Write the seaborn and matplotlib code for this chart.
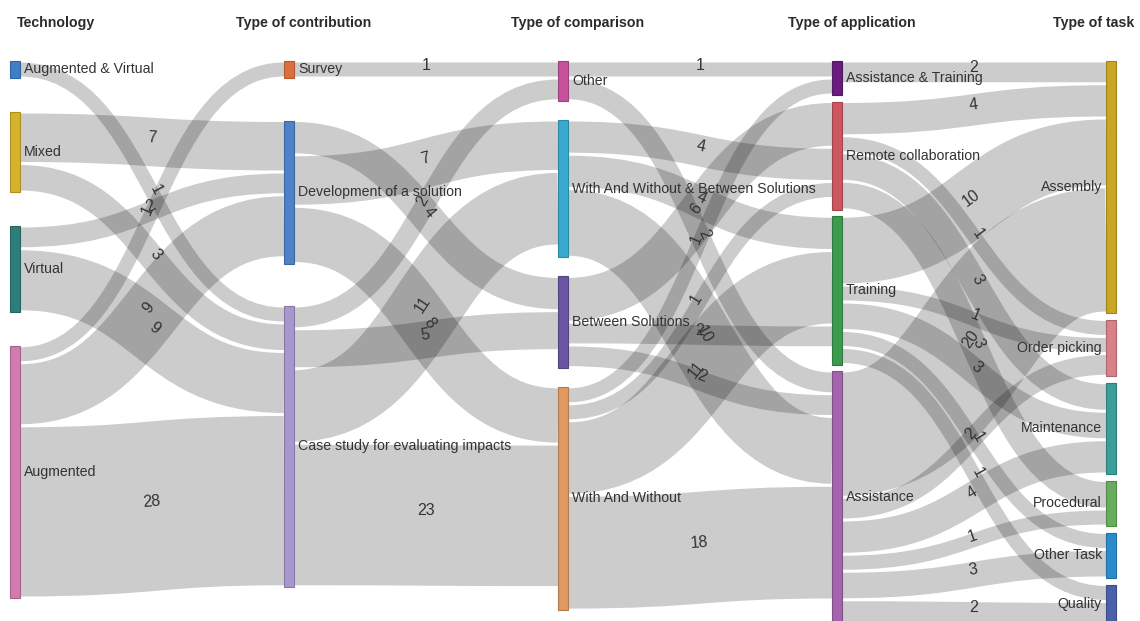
import numpy as np
import matplotlib
matplotlib.use("Agg")
import matplotlib.pyplot as plt
import seaborn as sns
from matplotlib.patches import Rectangle, PathPatch
from matplotlib.path import Path
from matplotlib.colors import to_rgb

# ---------------- data ----------------
column_titles = ["Technology", "Type of contribution", "Type of comparison",
                 "Type of application", "Type of task"]

technology = ["Augmented & Virtual", "Mixed", "Virtual", "Augmented"]
contribution = ["Survey", "Development of a solution", "Case study for evaluating impacts"]
comparison = ["Other", "With And Without & Between Solutions", "Between Solutions", "With And Without"]
application = ["Assistance & Training", "Remote collaboration", "Training", "Assistance"]
task = ["Assembly", "Order picking", "Maintenance", "Procedural", "Other Task", "Quality"]

technology_colors = ["#3f7fc6", "#d6b42a", "#2f7d7a", "#d27bb1"]
contribution_colors = ["#dd6f3e", "#4e81c7", "#a797cc"]
comparison_colors = ["#c6529c", "#3aa9cf", "#6a55a3", "#e09960"]
application_colors = ["#6a1b7e", "#cd5661", "#3b9a4e", "#a265ab"]
task_colors = ["#c9a623", "#d98089", "#3a9e99", "#68ad5e", "#2b8bcc", "#4b60aa"]

# Technology -> Type of contribution
tech_src = ["Augmented & Virtual", "Mixed", "Mixed", "Virtual", "Virtual",
            "Augmented", "Augmented", "Augmented"]
tech_tgt = ["Case study for evaluating impacts", "Development of a solution",
            "Case study for evaluating impacts", "Development of a solution",
            "Case study for evaluating impacts", "Survey", "Development of a solution",
            "Case study for evaluating impacts"]
tech_val = [1, 7, 3, 2, 9, 1, 9, 28]

# Type of contribution -> Type of comparison
contrib_src = ["Survey", "Development of a solution", "Development of a solution",
               "Development of a solution", "Case study for evaluating impacts",
               "Case study for evaluating impacts", "Case study for evaluating impacts",
               "Case study for evaluating impacts"]
contrib_tgt = ["Other", "Between Solutions", "With And Without & Between Solutions",
               "With And Without", "Other", "Between Solutions",
               "With And Without & Between Solutions", "With And Without"]
contrib_val = [1, 4, 7, 8, 2, 5, 11, 23]

# Type of comparison -> Type of application
comp_src = ["Other", "Other", "Between Solutions", "With And Without & Between Solutions",
            "With And Without & Between Solutions", "With And Without", "With And Without",
            "With And Without", "Between Solutions", "Between Solutions",
            "With And Without & Between Solutions", "With And Without"]
comp_tgt = ["Assistance & Training", "Assistance", "Remote collaboration",
            "Remote collaboration", "Training", "Assistance & Training",
            "Remote collaboration", "Training", "Training", "Assistance",
            "Assistance", "Assistance"]
comp_val = [1, 2, 6, 4, 4, 1, 1, 11, 2, 2, 10, 18]

# Type of application -> Type of task
app_src = ["Assistance & Training",
           "Remote collaboration", "Remote collaboration", "Remote collaboration",
           "Remote collaboration",
           "Training", "Training", "Training", "Training", "Training",
           "Assistance", "Assistance", "Assistance", "Assistance", "Assistance",
           "Assistance"]
app_tgt = ["Assembly",
           "Assembly", "Order picking", "Maintenance", "Procedural",
           "Assembly", "Order picking", "Maintenance", "Other Task", "Quality",
           "Assembly", "Order picking", "Maintenance", "Procedural", "Other Task",
           "Quality"]
app_val = [2, 4, 1, 3, 3, 10, 1, 3, 1, 1, 20, 2, 4, 1, 3, 2]

# ---------------- style / layout parameters ----------------
W, H = 1140, 621
SLOT_BASE, SLOT_PER_UNIT = 11.25, 5.75      # link slot thickness = base + per_unit * value
SEAM = 3.0                                   # white seam between adjacent links
NODE_W = 10
TOP = 61
COL_PAD = [34, 42.5, 19.2, 6.5, 6.5]
COL_X = np.linspace(10, 1106, 5)

sns.set_theme(style="white")
plt.rcParams["font.family"] = ["Liberation Sans", "DejaVu Sans"]

columns = [technology, contribution, comparison, application, task]
colors = [technology_colors, contribution_colors, comparison_colors,
          application_colors, task_colors]
stages = [(tech_src, tech_tgt, tech_val), (contrib_src, contrib_tgt, contrib_val),
          (comp_src, comp_tgt, comp_val), (app_src, app_tgt, app_val)]


def slot(v):
    return SLOT_BASE + SLOT_PER_UNIT * v


in_sum, out_sum = {}, {}
for s_list, t_list, v_list in stages:
    for s, t, v in zip(s_list, t_list, v_list):
        out_sum[s] = out_sum.get(s, 0) + slot(v)
        in_sum[t] = in_sum.get(t, 0) + slot(v)

node_x, node_y, node_h = {}, {}, {}
for ci, names in enumerate(columns):
    y = TOP
    for n in names:
        h = max(in_sum.get(n, 0), out_sum.get(n, 0))
        node_x[n], node_y[n], node_h[n] = COL_X[ci], y, h
        y += h + COL_PAD[ci]

fig = plt.figure(figsize=(W / 100, H / 100), dpi=100)
ax = fig.add_axes([0, 0, 1, 1])
ax.set_xlim(0, W)
ax.set_ylim(H, 0)
ax.axis("off")

text_col = "#333333"
out_off = {n: 0.0 for n in node_x}
in_off = {n: 0.0 for n in node_x}
px2pt = 72 / 100

for s_list, t_list, v_list in stages:
    for s, t, v in zip(s_list, t_list, v_list):
        w = slot(v)
        y0 = node_y[s] + out_off[s] + w / 2
        y1 = node_y[t] + in_off[t] + w / 2
        out_off[s] += w
        in_off[t] += w
        x0 = node_x[s] + NODE_W
        x1 = node_x[t]
        xm = (x0 + x1) / 2
        path = Path([(x0, y0), (xm, y0), (xm, y1), (x1, y1)],
                    [Path.MOVETO, Path.CURVE4, Path.CURVE4, Path.CURVE4])
        ax.add_patch(PathPatch(path, fill=False, edgecolor=(0, 0, 0, 0.2),
                               linewidth=(w - SEAM) * px2pt, capstyle="butt",
                               zorder=1))
        ang = -np.degrees(np.arctan2(1.5 * (y1 - y0), 0.75 * (x1 - x0)))
        ax.text(xm, (y0 + y1) / 2, str(v), rotation=ang, rotation_mode="anchor",
                ha="center", va="baseline", fontsize=11.5, color=text_col,
                zorder=4)

for ci, names in enumerate(columns):
    for n, c in zip(names, colors[ci]):
        edge = tuple(np.array(to_rgb(c)) * 0.8)
        ax.add_patch(Rectangle((node_x[n], node_y[n]), NODE_W, node_h[n],
                               facecolor=c, edgecolor=edge, linewidth=0.8, zorder=3))
        yc = node_y[n] + node_h[n] / 2
        if ci < len(columns) - 1:
            ax.text(node_x[n] + NODE_W + 4, yc, n, ha="left", va="center",
                    fontsize=10.2, color=text_col, zorder=5)
        else:
            ax.text(node_x[n] - 4, yc, n, ha="right", va="center",
                    fontsize=10.2, color=text_col, zorder=5)

for ci, title in enumerate(column_titles):
    if ci == 0:
        x, ha = COL_X[ci] + 7, "left"
    elif ci == len(column_titles) - 1:
        x, ha = COL_X[ci] + NODE_W + 18, "right"
    else:
        x, ha = COL_X[ci] + NODE_W / 2 + 15, "center"
    ax.text(x, 23, title, ha=ha, va="center", fontsize=10.2, fontweight="bold",
            color="#2b2b2b")

fig.savefig("out.png", dpi=100)
